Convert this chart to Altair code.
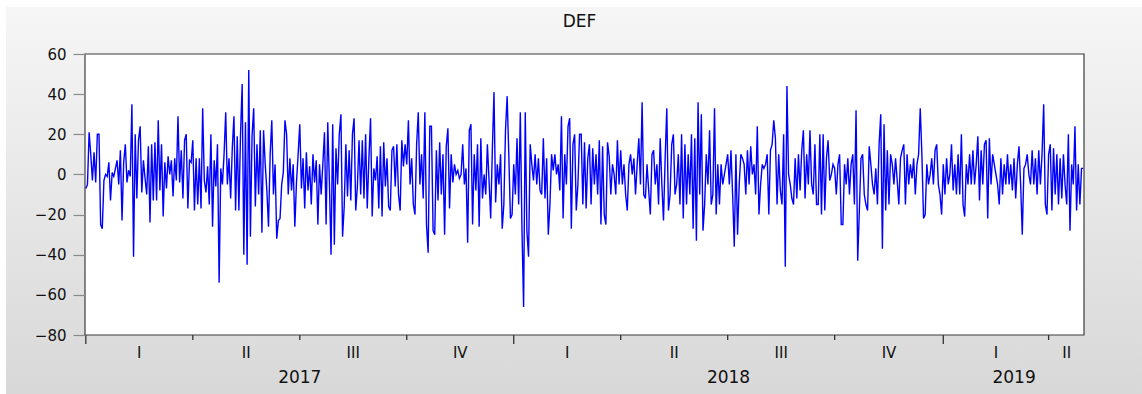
import altair as alt
import numpy as np
import pandas as pd

# ---- DEF values (5-day daily observations), one list per quarter ----
q2017_1 = [-7, -5, 21, 10, -3, 11, -4, 20, 20, -25, -27, -3, 0, -1, 6, -13, 1, -1, 3, 7,
           -5, 12, -23, 6, 15, -4, 2, -1, 35, -41, 20, -12, 17, 24, -9, 7, -2, -10, 14, -24,
           15, -13, 16, -13, 27, -8, 15, -21, 6, -7, 9, 0, 7, -11, 8, -3, 29, -4, 12, -12,
           17, 20, -17, 7, 6]
q2017_2 = [17, -18, 8, -15, 8, -17, 33, -3, -9, 4, -15, 20, -26, 7, -6, 15, -54, 3, -5, 10,
           31, -5, 8, -12, 13, 29, -18, 19, -18, 20, 45, -40, 26, -45, 52, -31, 19, 33, -16, 15,
           -10, 22, -29, 22, 5, -8, -26, 10, 27, -10, 5, -32, -23, -22, -5, 1, 27, 20, -10, 8,
           -8, 5, -26, -4, 10]
q2017_3 = [25, -7, 8, -17, 11, -8, 4, -15, 10, -4, 7, -25, 5, -10, 5, 21, -25, 26, -4, -40,
           25, -35, 13, -5, 20, 30, -31, -16, 15, -11, 12, -13, 20, 28, -18, -6, 17, -10, 17, -12,
           20, -17, 8, 28, -21, 3, -3, 9, -17, 14, -21, 16, -6, 8, -16, -18, 12, 14, -6, 15,
           -10, -18, 17, 4, 15]
q2017_4 = [5, 27, -5, 8, -15, -20, 15, 31, -5, 10, -12, 31, -25, -39, 24, 24, -28, -30, 12, -13,
           16, -10, 10, -30, 14, 23, -17, 10, -4, 5, 0, 2, -2, 0, 15, -5, 3, -34, 22, 25,
           -25, 10, -8, 15, -26, 18, -12, 0, -10, 15, -3, -22, 12, 41, -14, 5, -5, 10, -27, -15,
           22, 39, 10, -22, -20]
q2018_1 = [5, -10, 18, -15, 31, -27, -66, 31, -28, -41, 15, 5, -3, 10, -5, 8, -8, -10, 18, -12,
           8, -30, -15, 10, 2, 10, 0, 5, -8, 29, -22, 10, -5, 24, 28, -27, 15, 20, -18, -5,
           20, 20, -15, 16, -17, 8, 15, -15, 13, -5, 10, -10, 17, -25, 14, -20, -25, 16, 9, -10,
           5, 0, -10, 17, -5]
q2018_2 = [12, -5, 5, -10, -18, 5, 10, 0, 8, -10, 5, 18, -5, 36, -10, -12, 5, -8, -20, 10,
           12, -5, 5, -15, 18, -5, -23, 8, 33, -18, -10, 15, 20, -10, -5, 10, -15, 20, -22, 15,
           -15, 10, -10, 20, -27, 18, -33, 36, -10, 30, -28, -15, 10, -5, 22, -15, -10, 33, -20, 5,
           -15, 5, -5, 0, 5]
q2018_3 = [10, -5, 12, -10, -36, 10, -30, -5, 10, 8, 5, -10, 12, -5, 14, 0, 5, -10, 24, -20,
           -5, 5, 3, 5, 10, -20, 12, 15, 27, 18, -15, 10, -8, -15, 20, -46, 44, 0, -5, -12,
           -15, 8, -12, 10, -8, 12, 22, -12, 10, -5, 22, -5, -10, 15, -15, -15, 20, -20, 20, -18,
           8, 17, -3, 0, 5]
q2018_4 = [3, -10, 5, 10, -25, -25, 5, -5, 8, -10, 5, 10, -15, 32, -43, -18, 8, 10, -10, -15,
           -18, 14, 5, -5, -10, 3, -15, 15, 30, -37, 25, -18, 12, -15, 10, 5, -5, 8, -3, -15,
           8, 12, 15, -15, 10, -5, 5, -2, 8, -10, 5, 10, 33, 10, -22, -20, 5, -5, 0, 8,
           -5, 12, 15, -5, -10, -20]
q2019_1 = [5, -10, 8, -5, 0, 15, -8, 5, -10, 10, -10, 20, -15, -21, 5, -5, 10, -5, 12, -5,
           5, 19, -13, 12, -5, 15, 17, -22, 18, -5, 10, 5, 0, -5, -15, 8, -10, 5, -5, 10,
           -5, 5, -8, 8, -12, 5, 14, -5, -30, 3, 5, 10, 0, -5, 12, -5, 8, -10, 12, -5,
           10, 35, -15, -20]
q2019_2 = [10, 15, -18, 13, -10, 10, -15, 8, -12, 10, -5, -15, 20, -28, 5, -5, 24, -18, 5, -15,
           3, 3]

quarter_labels = ["I", "II", "III", "IV", "I", "II", "III", "IV", "I", "II"]
year_labels = ["2017", "2018", "2019"]
quarters_per_year = [4, 4, 2]
title_text = "DEF"

quarters = [q2017_1, q2017_2, q2017_3, q2017_4, q2018_1, q2018_2,
            q2018_3, q2018_4, q2019_1, q2019_2]

# ---- tables built from the lists ----
values = [v for q in quarters for v in q]
N = len(values)
df = pd.DataFrame({"obs": np.arange(N), "DEF": values})

starts = np.cumsum([0] + [len(q) for q in quarters])
year_first_q = np.cumsum([0] + quarters_per_year)
is_year_start = [i in set(year_first_q[:-1]) for i in range(len(quarters))]
qdf = pd.DataFrame({
    "pos": starts[:-1],
    "mid": (starts[:-1] + starts[1:]) / 2.0,
    "label": quarter_labels,
    "year_start": is_year_start,
})
ydf = pd.DataFrame({
    "mid": [(starts[year_first_q[i]] + starts[year_first_q[i + 1]]) / 2.0
            for i in range(len(year_labels))],
    "label": year_labels,
})

W, H = 999, 281
FONT = "DejaVu Sans"
TXT = "#111111"
xscale = alt.Scale(domain=[-0.5, N - 0.5], nice=False, zero=False)

one = pd.DataFrame({"a": [0]})

bg = alt.Chart(one).mark_rect(
    color=alt.Gradient(
        gradient="linear",
        stops=[alt.GradientStop(color="#f6f6f6", offset=0),
               alt.GradientStop(color="#d8d8d8", offset=1)],
        x1=0, x2=0, y1=0, y2=1),
).encode(x=alt.value(-79), x2=alt.value(1057), y=alt.value(-47), y2=alt.value(340))

plot_bg = alt.Chart(one).mark_rect(fill="white", stroke="#3c3c3c", strokeWidth=1.2).encode(
    x=alt.value(0), x2=alt.value(W), y=alt.value(0), y2=alt.value(H))

title = alt.Chart(one).mark_text(font=FONT, fontSize=17, color=TXT,
                                 baseline="middle", align="center").encode(
    x=alt.value(W / 2 - 5), y=alt.value(-32), text=alt.value(title_text))

line = alt.Chart(df).mark_line(color="#0000ff", strokeWidth=1.4, clip=True).encode(
    x=alt.X("obs:Q", scale=xscale, axis=None),
    y=alt.Y("DEF:Q",
            scale=alt.Scale(domain=[-80, 60], nice=False, zero=False),
            axis=alt.Axis(values=list(range(-80, 61, 20)), title=None, grid=False,
                          domain=False, tickSize=12, tickColor="#8a8a8a", tickWidth=1.2,
                          labelPadding=7, labelFontSize=15, labelFont=FONT,
                          labelColor=TXT, zindex=2)),
)

qticks = alt.Chart(qdf).transform_filter("!datum.year_start").mark_rule(
    color="#333333", strokeWidth=1.3).encode(
    x=alt.X("pos:Q", scale=xscale, axis=None), y=alt.value(H), y2=alt.value(H + 5))
yticks = alt.Chart(qdf).transform_filter("datum.year_start").mark_rule(
    color="#333333", strokeWidth=1.3).encode(
    x=alt.X("pos:Q", scale=xscale, axis=None), y=alt.value(H), y2=alt.value(H + 9))

qtext = alt.Chart(qdf).mark_text(font=FONT, fontSize=15, color=TXT,
                                 baseline="middle", align="center").encode(
    x=alt.X("mid:Q", scale=xscale, axis=None), y=alt.value(H + 18), text="label:N")
ytext = alt.Chart(ydf).mark_text(font=FONT, fontSize=17, color=TXT,
                                 baseline="middle", align="center").encode(
    x=alt.X("mid:Q", scale=xscale, axis=None), y=alt.value(H + 43), text="label:N")

chart = alt.layer(bg, plot_bg, title, line, qticks, yticks, qtext, ytext).properties(
    width=W, height=H,
    padding={"left": 85, "top": 54, "right": 58, "bottom": 59},
    autosize=alt.AutoSizeParams(type="none"),
    background="white",
).configure_view(stroke=None)

chart.save("out.html", embed_options={"renderer": "svg", "actions": False})
